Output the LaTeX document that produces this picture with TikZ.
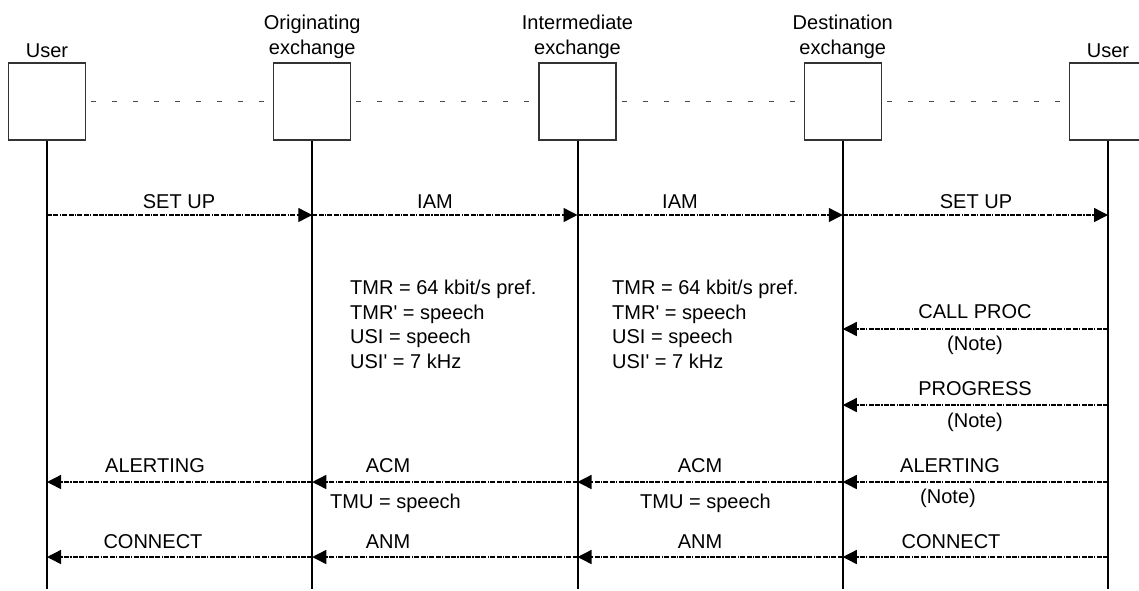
\documentclass[tikz,border=0pt]{standalone}
\usepackage{fontspec}
\setmainfont{Liberation Sans}
\usetikzlibrary{positioning,arrows.meta}

\begin{document}
\begin{tikzpicture}[x=1pt,y=1pt,node distance=265.25pt,on grid,
    unit/.style={draw=black!80,line width=1.2pt,minimum size=77pt,inner sep=0pt},
    life/.style={line width=2pt},
    link/.style={draw=black!70,line width=0.8pt,dash pattern=on 5pt off 16pt,dash phase=-5pt},
    msg/.style={line width=1.4pt,dash pattern=on 5pt off 1.3pt on 5pt off 1.3pt on 1.3pt off 1.3pt,
      -{Triangle[length=14pt,width=14pt]}},
    txt/.style={font=\fontsize{20}{24.5}\selectfont,inner sep=0pt},
    every label/.style={txt,align=center}]
  \useasboundingbox (0,0) rectangle (1139,-590);

  % boxes
  \node[unit,label={[label distance=5pt]above:User}] (ua) at (47,-101.5) {};
  \node[unit,label={[label distance=4pt]above:Originating\\exchange}] (oe) [right=of ua] {};
  \node[unit,label={[label distance=4pt]above:Intermediate\\exchange}] (ie) [right=of oe] {};
  \node[unit,label={[label distance=4pt]above:Destination\\exchange}] (de) [right=of ie] {};
  \node[unit,label={[label distance=5pt]above:User}] (ub) [right=of de] {};

  \draw[link] (ua.east) -- (oe.west);
  \draw[link] (oe.east) -- (ie.west);
  \draw[link] (ie.east) -- (de.west);
  \draw[link] (de.east) -- (ub.west);

  % lifelines
  \coordinate (bottom) at (0,-589);
  \foreach \n in {ua,oe,ie,de,ub}
    \draw[life] (\n.south) -- (\n |- bottom);

  % rows
  \coordinate (r setup) at (0,-215);
  \coordinate (r proc) at (0,-329);
  \coordinate (r prog) at (0,-405);
  \coordinate (r alert) at (0,-482);
  \coordinate (r conn) at (0,-557);

  \draw[msg] (ua |- r setup) -- (oe |- r setup);
  \draw[msg] (oe |- r setup) -- (ie |- r setup);
  \draw[msg] (ie |- r setup) -- (de |- r setup);
  \draw[msg] (de |- r setup) -- (ub |- r setup);
  \draw[msg] (ub |- r proc) -- (de |- r proc);
  \draw[msg] (ub |- r prog) -- (de |- r prog);
  \draw[msg] (ub |- r alert) -- (de |- r alert);
  \draw[msg] (de |- r alert) -- (ie |- r alert);
  \draw[msg] (ie |- r alert) -- (oe |- r alert);
  \draw[msg] (oe |- r alert) -- (ua |- r alert);
  \draw[msg] (ub |- r conn) -- (de |- r conn);
  \draw[msg] (de |- r conn) -- (ie |- r conn);
  \draw[msg] (ie |- r conn) -- (oe |- r conn);
  \draw[msg] (oe |- r conn) -- (ua |- r conn);

  % labels
  \node[txt,anchor=base] (setup1) at (179,-208) {SET UP};
  \node[txt,anchor=base] (iam1) at (435,-208) {IAM};
  \node[txt,anchor=base] (iam2) at (680,-208) {IAM};
  \node[txt,anchor=base] (setup2) at (976,-208) {SET UP};
  \node[txt,anchor=base] (proc) at (975,-318) {CALL PROC};
  \node[txt,anchor=base] (note1) at (975,-350) {(Note)};
  \node[txt,anchor=base] (prog) at (975,-395) {PROGRESS};
  \node[txt,anchor=base] (note2) at (975,-427) {(Note)};
  \node[txt,anchor=base] (alert1) at (155,-472) {ALERTING};
  \node[txt,anchor=base] (acm1) at (388,-472) {ACM};
  \node[txt,anchor=base] (acm2) at (700,-472) {ACM};
  \node[txt,anchor=base] (alert2) at (950,-472) {ALERTING};
  \node[txt,anchor=base west] (tmu1) at (330,-508) {TMU = speech};
  \node[txt,anchor=base west] (tmu2) at (640,-508) {TMU = speech};
  \node[txt,anchor=base] (note3) at (948,-503) {(Note)};
  \node[txt,anchor=base] (conn1) at (153,-548) {CONNECT};
  \node[txt,anchor=base] (anm1) at (388,-548) {ANM};
  \node[txt,anchor=base] (anm2) at (700,-548) {ANM};
  \node[txt,anchor=base] (conn2) at (951,-548) {CONNECT};

  \node[txt,align=left,anchor=north west] (tmr1) at (350,-280)
    {TMR = 64 kbit/s pref.\\TMR\textquotesingle{} = speech\\USI = speech\\USI\textquotesingle{} = 7 kHz};
  \node[txt,align=left,anchor=north west] (tmr2) at (612,-280)
    {TMR = 64 kbit/s pref.\\TMR\textquotesingle{} = speech\\USI = speech\\USI\textquotesingle{} = 7 kHz};
\end{tikzpicture}
\end{document}
